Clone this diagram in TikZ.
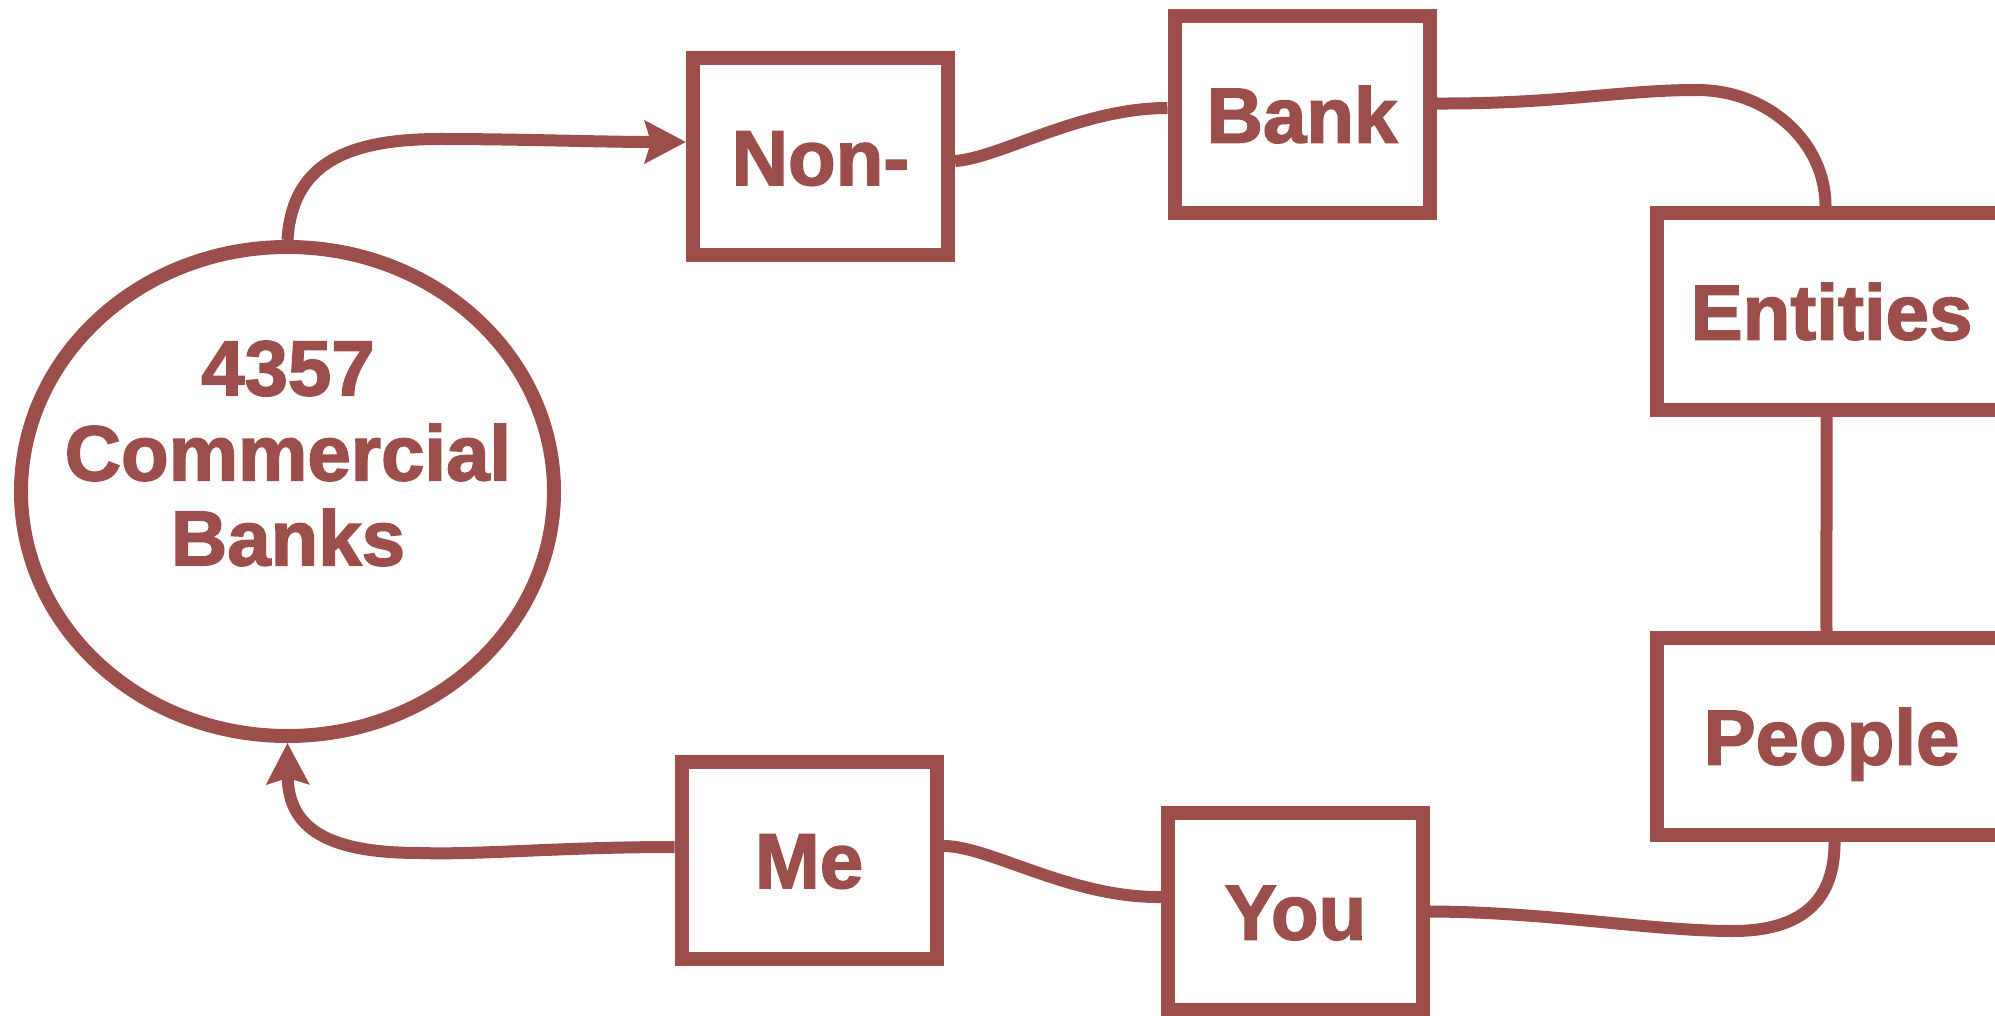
\documentclass[tikz,border=0pt]{standalone}
\usepackage{fontspec}
\setmainfont{Liberation Sans}[BoldFeatures={FakeBold=2}]
\usetikzlibrary{shapes.geometric,arrows.meta}
\definecolor{brick}{RGB}{155,78,74}
\begin{document}
\begin{tikzpicture}[x=1pt,y=-1pt,
  every node/.style={inner sep=0pt},
  label font/.style={text=brick, font=\fontsize{78}{85}\selectfont\bfseries},
  frame/.style={draw=brick, line width=14pt, rectangle, minimum width=255pt,
    minimum height=197pt, label font, text height=56pt, text depth=0pt},
  wideframe/.style={frame, minimum width=349pt},
  link/.style={draw=brick, line width=12pt},
  flow/.style={link, -{Stealth[length=41pt,width=42pt,inset=6pt]}}
]
\useasboundingbox (0,0) rectangle (1995,1016);
\clip (0,0) rectangle (1995,1016);

% the banking system at the start and end of the loop
\node (banks) [ellipse, draw=brick, line width=14pt,
  minimum width=533pt, minimum height=489pt] at (287.5,491.5) {};
\node (bankstext) [label font, align=center] at (288,453.5)
  {4357\\Commercial\\Banks};

% the chain of holders
\node (non)      [frame]     at (820.5,157)    {Non-};
\node (bank)     [frame]     at (1302,114.5)   {Bank};
\node (entities) [wideframe] at (1831.5,311.5) {Entities};
\node (people)   [wideframe] at (1831.5,736.5) {People};
\node (you)      [frame]     at (1295.5,911.5) {You};
\node (me)       [frame]     at (809,860)      {Me};

% connectors
\draw[flow] (banks.north) .. controls (292,165) and (345,139) .. (440,139)
  .. controls (520,139) and (600,142) .. ([yshift=15pt]non.west);
\draw[link] ([yshift=-4pt]non.east) .. controls (1000,158) and (1080,108)
  .. ([yshift=6.5pt]bank.west);
\draw[link] ([yshift=11pt]bank.east) .. controls (1560,104) and (1620,90)
  .. (1697,90) .. controls (1768,90) and ([xshift=-6pt]entities.north |- 0,142)
  .. ([xshift=-6pt]entities.north);
\draw[link] ([xshift=-5pt]entities.south) .. controls (1827,490) and (1826,560)
  .. ([xshift=-5pt]people.north);
\draw[link] ([xshift=3pt]people.south) .. controls (1835,910) and (1790,931)
  .. (1733,931) .. controls (1650,931) and (1550,912) .. (you.east);
\draw[link] ([yshift=14pt]me.east) .. controls (990,846) and (1070,898)
  .. ([yshift=14.5pt]you.west);
\draw[flow] ([yshift=13pt]me.west) .. controls (560,847) and (480,855)
  .. (420,853) .. controls (330,853) and (288,830) .. (banks.south);
\end{tikzpicture}
\end{document}
